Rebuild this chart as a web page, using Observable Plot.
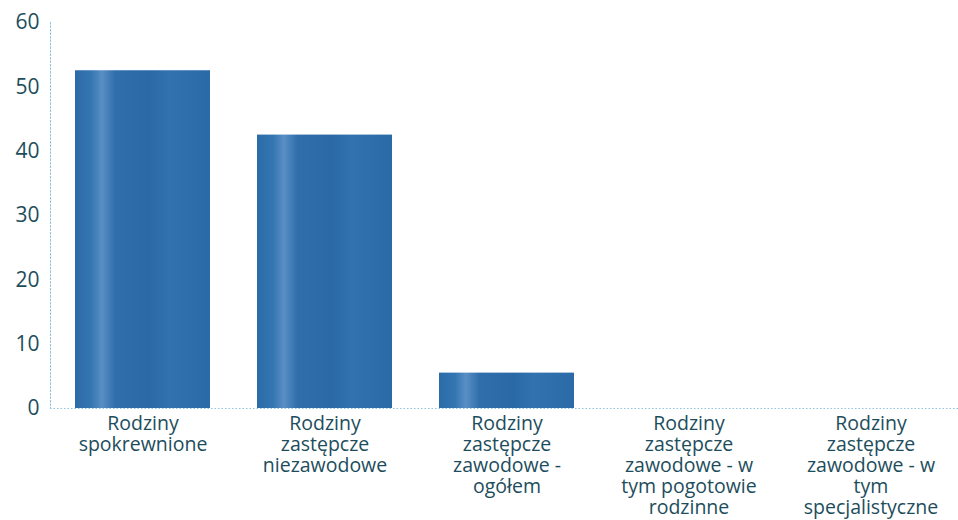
<!DOCTYPE html>
<html>
<head>
<meta charset="utf-8">
<script src="https://cdn.jsdelivr.net/npm/d3@7"></script>
<script src="https://cdn.jsdelivr.net/npm/@observablehq/plot@0.6"></script>
<style>
  html, body { margin: 0; padding: 0; background: #fff; }
  #chart { width: 958px; height: 520px; }
</style>
</head>
<body>
<div id="chart"></div>
<script>
const categories = [
  "Rodziny\nspokrewnione",
  "Rodziny\nzastępcze\nniezawodowe",
  "Rodziny\nzastępcze\nzawodowe -\nogółem",
  "Rodziny\nzastępcze\nzawodowe - w\ntym pogotowie\nrodzinne",
  "Rodziny\nzastępcze\nzawodowe - w\ntym\nspecjalistyczne"
];
const values = [52.5, 42.5, 5.5, 0, 0];
const yTicks = [0, 10, 20, 30, 40, 50, 60];

const data = categories.map((c, i) => ({category: c, value: values[i]}));

const textColor = "#1d4d5c";
const lineColor = "#8ec5dc";

const chart = Plot.plot({
  width: 958,
  height: 520,
  marginTop: 22,
  marginBottom: 112,
  marginLeft: 50,
  marginRight: 0,
  style: {fontFamily: "'Open Sans', 'Noto Sans', sans-serif", background: "#fff"},
  x: {domain: categories, range: [50, 963], paddingInner: 0.26, paddingOuter: 0.13, label: null},
  y: {domain: [0, 60], ticks: yTicks, label: null},
  marks: [
    Plot.frame({anchor: "left", stroke: lineColor, strokeDasharray: "1.5,2"}),
    Plot.ruleY([0], {stroke: lineColor, strokeDasharray: "1.5,2"}),
    Plot.barY(data, {x: "category", y: "value", fill: "url(#barGrad)"}),
    Plot.axisY({ticks: yTicks, tickSize: 0, tickPadding: 11, fontSize: 21, color: textColor, label: null}),
    Plot.axisX({tickSize: 0, tickPadding: 7, fontSize: 19.5, lineHeight: 1.07, color: textColor, label: null})
  ]
});

// horizontal gradient to mimic the shaded bars
const ns = "http://www.w3.org/2000/svg";
const defs = document.createElementNS(ns, "defs");
const grad = document.createElementNS(ns, "linearGradient");
grad.setAttribute("id", "barGrad");
grad.setAttribute("x1", "0"); grad.setAttribute("x2", "1");
grad.setAttribute("y1", "0"); grad.setAttribute("y2", "0");
[[0, "#2b6ba8"], [0.12, "#3476b2"], [0.2, "#5a8fc6"], [0.3, "#2f6eaa"], [0.55, "#2a69a6"], [0.7, "#3272ae"], [1, "#2a6aa7"]]
  .forEach(([o, c]) => {
    const s = document.createElementNS(ns, "stop");
    s.setAttribute("offset", o);
    s.setAttribute("stop-color", c);
    grad.appendChild(s);
  });
defs.appendChild(grad);
chart.insertBefore(defs, chart.firstChild);

document.getElementById("chart").appendChild(chart);
</script>
</body>
</html>
